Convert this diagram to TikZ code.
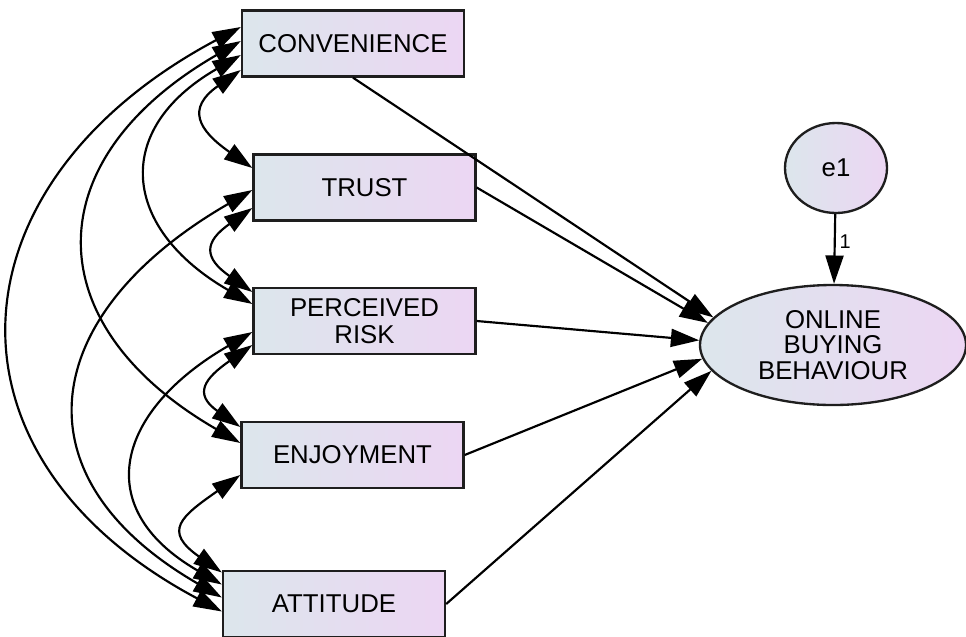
\documentclass[tikz,border=0pt]{standalone}
\usepackage{fontspec}
\setmainfont{Liberation Sans}
\usetikzlibrary{arrows.meta,shapes.geometric}
\definecolor{boxleft}{RGB}{220,230,236}
\definecolor{boxright}{RGB}{236,214,243}
\definecolor{edgegray}{RGB}{30,30,30}
\tikzset{
  obsbox/.style={rectangle, draw=edgegray, line width=0.7mm, minimum width=66.6mm,
    minimum height=19.8mm, inner sep=0pt, align=center, left color=boxleft,
    right color=boxright, font=\fontsize{22}{23}\selectfont},
  latentvar/.style={ellipse, draw=edgegray, line width=0.7mm, inner sep=0pt,
    align=center, left color=boxleft, right color=boxright,
    font=\fontsize{22}{22}\selectfont},
  >={Triangle[length=8.5mm,width=5.4mm]},
}
\begin{document}
\begin{tikzpicture}[x=0.3mm, y=-0.3mm, line width=0.65mm]
        \useasboundingbox (0, 0) rectangle (966, 636);

        \node[obsbox] (conv) at (353, 43.5) {CONVENIENCE};
        \node[obsbox] (trust) at (364.5, 187.5) {TRUST};
        \node[obsbox] (risk) at (364.5, 321) {PERCEIVED\\RISK};
        \node[obsbox] (enjoy) at (352.5, 455) {ENJOYMENT};
        \node[obsbox] (att) at (334, 604) {ATTITUDE};
        \node[latentvar, minimum width=30.6mm, minimum height=27mm] (e1) at (836, 168) {e1};
        \node[latentvar, minimum width=79.8mm, minimum height=36mm] (obb) at (833, 345) {ONLINE\\BUYING\\BEHAVIOUR};

        % regression paths
        \draw[->] (conv.south) -- (obb.167);
        \draw[->] (trust.east) -- (obb.170);
        \draw[->] (risk.east) -- (obb.178);
        \draw[->] (enjoy.east) -- (obb.186);
        \draw[->] (att.east) -- (obb.192);
        \draw[->] (e1) -- node[right, pos=0.4, font=\fontsize{17}{17}\selectfont] {1} (obb);

        % covariances
        \draw[<->] ([yshift=-7.95mm]conv.west) to[out=215, in=145, looseness=1.73] ([yshift=5.85mm]trust.west);
        \draw[<->] ([yshift=-6.15mm]trust.west) to[out=215, in=145, looseness=1.81] ([yshift=8.7mm]risk.west);
        \draw[<->] ([yshift=-7.2mm]risk.west) to[out=215, in=145, looseness=1.79] ([yshift=8.4mm]enjoy.west);
        \draw[<->] ([yshift=-6mm]enjoy.west) to[out=215, in=145, looseness=1.87] ([yshift=9.45mm]att.west);
        \draw[<->] ([yshift=-3.45mm]conv.west) to[out=210, in=150, looseness=1.54] ([yshift=5.1mm]risk.west);
        \draw[<->] ([yshift=0.75mm]conv.west) to[out=210, in=150, looseness=1.51] ([yshift=3.6mm]enjoy.west);
        \draw[<->] ([yshift=4.95mm]conv.west) to[out=208, in=152, looseness=1.45] ([yshift=-2.25mm]att.west);
        \draw[<->] ([yshift=-0.75mm]trust.west) to[out=210, in=150, looseness=1.53] ([yshift=1.95mm]att.west);
        \draw[<->] ([yshift=-3.3mm]risk.west) to[out=210, in=150, looseness=1.56] ([yshift=5.85mm]att.west);

    \end{tikzpicture}
\end{document}
